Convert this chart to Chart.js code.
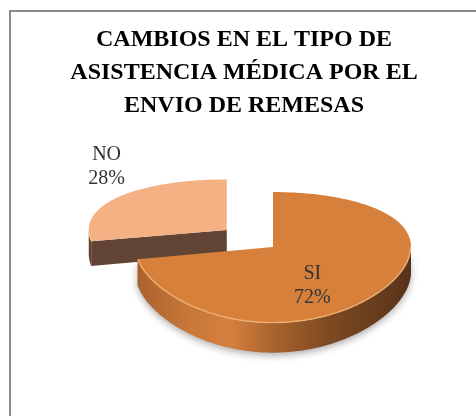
<!DOCTYPE html>
<html>
<head>
<meta charset="utf-8">
<script src="https://cdn.jsdelivr.net/npm/chart.js@4"></script>
<style>
  html, body { margin: 0; padding: 0; background: #fff; overflow: hidden; }
  .wrap { position: relative; width: 476px; height: 416px; }
  .frame {
    position: absolute; left: 9px; top: 10px; right: -10px; bottom: -10px;
    border-left: 2px solid #8c8c8c; border-top: 2px solid #8c8c8c;
    pointer-events: none;
  }
</style>
</head>
<body>
<div class="wrap">
  <canvas id="chart" width="476" height="416"></canvas>
  <div class="frame"></div>
</div>
<script>
const titleLines = ['CAMBIOS EN EL TIPO DE', 'ASISTENCIA MÉDICA POR EL', 'ENVIO DE REMESAS'];
const categories = ['SI', 'NO'];
const values = [72, 28];

// styling, kept apart from the data
const topColors = ['#D6803C', '#F4B183'];
const radialColors = ['#8a5126', '#614434'];
const explode = [0, 60];
const labelRadius = [0.37, 1.13];
const labelLift = [23, -25];

const view = { shiftX: 29, shiftY: 0, tilt: 0.462, persp: 0.16, depth: 25 };

function sideFill(ctx, i, cx, R) {
  if (i !== 0) return '#5f4232';
  const g = ctx.createLinearGradient(cx - R, 0, cx + R, 0);
  g.addColorStop(0, '#a8612b');
  g.addColorStop(0.2, '#c9783a');
  g.addColorStop(0.35, '#d5803d');
  g.addColorStop(0.5, '#a8632e');
  g.addColorStop(0.7, '#7e4a22');
  g.addColorStop(1, '#583319');
  return g;
}

const pie3d = {
  id: 'pie3d',
  beforeDatasetsDraw(chart) {
    const ctx = chart.ctx;
    const arcs = chart.getDatasetMeta(0).data;
    const total = values.reduce((a, b) => a + b, 0);

    const geo = arcs.map((arc, i) => {
      const p = arc.getProps(['x', 'y', 'startAngle', 'endAngle', 'outerRadius'], true);
      const R = p.outerRadius;
      const cx = p.x + view.shiftX, cy = p.y + view.shiftY;
      const m = (p.startAngle + p.endAngle) / 2;
      const ex = explode[i] * Math.cos(m), ey = explode[i] * Math.sin(m);
      const pt = (a, rho, z) => {
        const u = ex + rho * Math.cos(a), v = ey + rho * Math.sin(a);
        const w = 1 / (1 - view.persp * v / R);
        return [cx + u, cy + (view.tilt * v + z * view.depth) * w];
      };
      return { i, p, R, cx, m, ey, pt };
    });

    // back to front
    geo.sort((a, b) => a.ey - b.ey);

    geo.forEach(g => {
      const { i, p, R, cx, pt } = g;
      const a0 = p.startAngle, a1 = p.endAngle;
      const steps = Math.max(2, Math.ceil((a1 - a0) / (Math.PI / 180)));

      // radial faces that look toward the viewer
      [[a0, a0 - Math.PI / 2], [a1, a1 + Math.PI / 2]].forEach(([a, n]) => {
        if (Math.sin(n) <= 0.01) return;
        const c0 = pt(a, 0, 0), e0 = pt(a, R, 0), e1 = pt(a, R, 1), c1 = pt(a, 0, 1);
        ctx.beginPath();
        ctx.moveTo(c0[0], c0[1]);
        ctx.lineTo(e0[0], e0[1]);
        ctx.lineTo(e1[0], e1[1]);
        ctx.lineTo(c1[0], c1[1]);
        ctx.closePath();
        ctx.fillStyle = radialColors[i];
        ctx.fill();
      });

      // curved outer wall, front half only
      const front = [];
      for (let k = 0; k <= steps; k++) {
        const a = a0 + (a1 - a0) * k / steps;
        if (Math.sin(a) > -0.02) front.push(a);
      }
      if (front.length > 1) {
        ctx.save();
        if (i === 0) {
          ctx.shadowColor = 'rgba(0,0,0,0.3)';
          ctx.shadowBlur = 7;
          ctx.shadowOffsetY = 3;
        }
        ctx.beginPath();
        front.forEach((a, k) => {
          const q = pt(a, R, 0);
          k ? ctx.lineTo(q[0], q[1]) : ctx.moveTo(q[0], q[1]);
        });
        for (let k = front.length - 1; k >= 0; k--) {
          const q = pt(front[k], R, 1);
          ctx.lineTo(q[0], q[1]);
        }
        ctx.closePath();
        ctx.fillStyle = sideFill(ctx, i, cx, R);
        ctx.fill();
        ctx.restore();
      }

      // top face
      ctx.beginPath();
      const c = pt(0, 0, 0);
      ctx.moveTo(c[0], c[1]);
      for (let k = 0; k <= steps; k++) {
        const q = pt(a0 + (a1 - a0) * k / steps, R, 0);
        ctx.lineTo(q[0], q[1]);
      }
      ctx.closePath();
      ctx.fillStyle = arcs[i].options.backgroundColor;
      ctx.fill();

      // light rim along the front edge
      if (front.length > 1) {
        ctx.beginPath();
        front.forEach((a, k) => {
          const q = pt(a, R - 0.5, 0);
          k ? ctx.lineTo(q[0], q[1]) : ctx.moveTo(q[0], q[1]);
        });
        ctx.strokeStyle = 'rgba(255,200,140,0.55)';
        ctx.lineWidth = 1.5;
        ctx.stroke();
      }
    });

    // data labels
    ctx.save();
    ctx.font = '20px "Liberation Serif", "Times New Roman", serif';
    ctx.fillStyle = '#333333';
    ctx.textAlign = 'center';
    ctx.textBaseline = 'middle';
    geo.forEach(g => {
      const q = g.pt(g.m, g.R * labelRadius[g.i], 0);
      const y = q[1] + labelLift[g.i];
      const pct = Math.round(values[g.i] / total * 100) + '%';
      ctx.fillText(categories[g.i], q[0], y - 12);
      ctx.fillText(pct, q[0], y + 12);
    });
    ctx.restore();

    return false;
  }
};

new Chart(document.getElementById('chart'), {
  type: 'pie',
  data: {
    labels: categories,
    datasets: [{
      data: values,
      backgroundColor: topColors,
      borderWidth: 0,
      radius: 138
    }]
  },
  options: {
    responsive: false,
    animation: false,
    layout: { padding: { left: 12, right: 0, top: 23, bottom: 54 } },
    plugins: {
      legend: { display: false },
      tooltip: { enabled: false },
      title: {
        display: true,
        text: titleLines,
        color: '#000',
        padding: { top: 0, bottom: 10 },
        font: { family: '"Liberation Serif", "Times New Roman", serif', size: 24, weight: 'bold', lineHeight: 1.375 }
      }
    }
  },
  plugins: [pie3d]
});
</script>
</body>
</html>
